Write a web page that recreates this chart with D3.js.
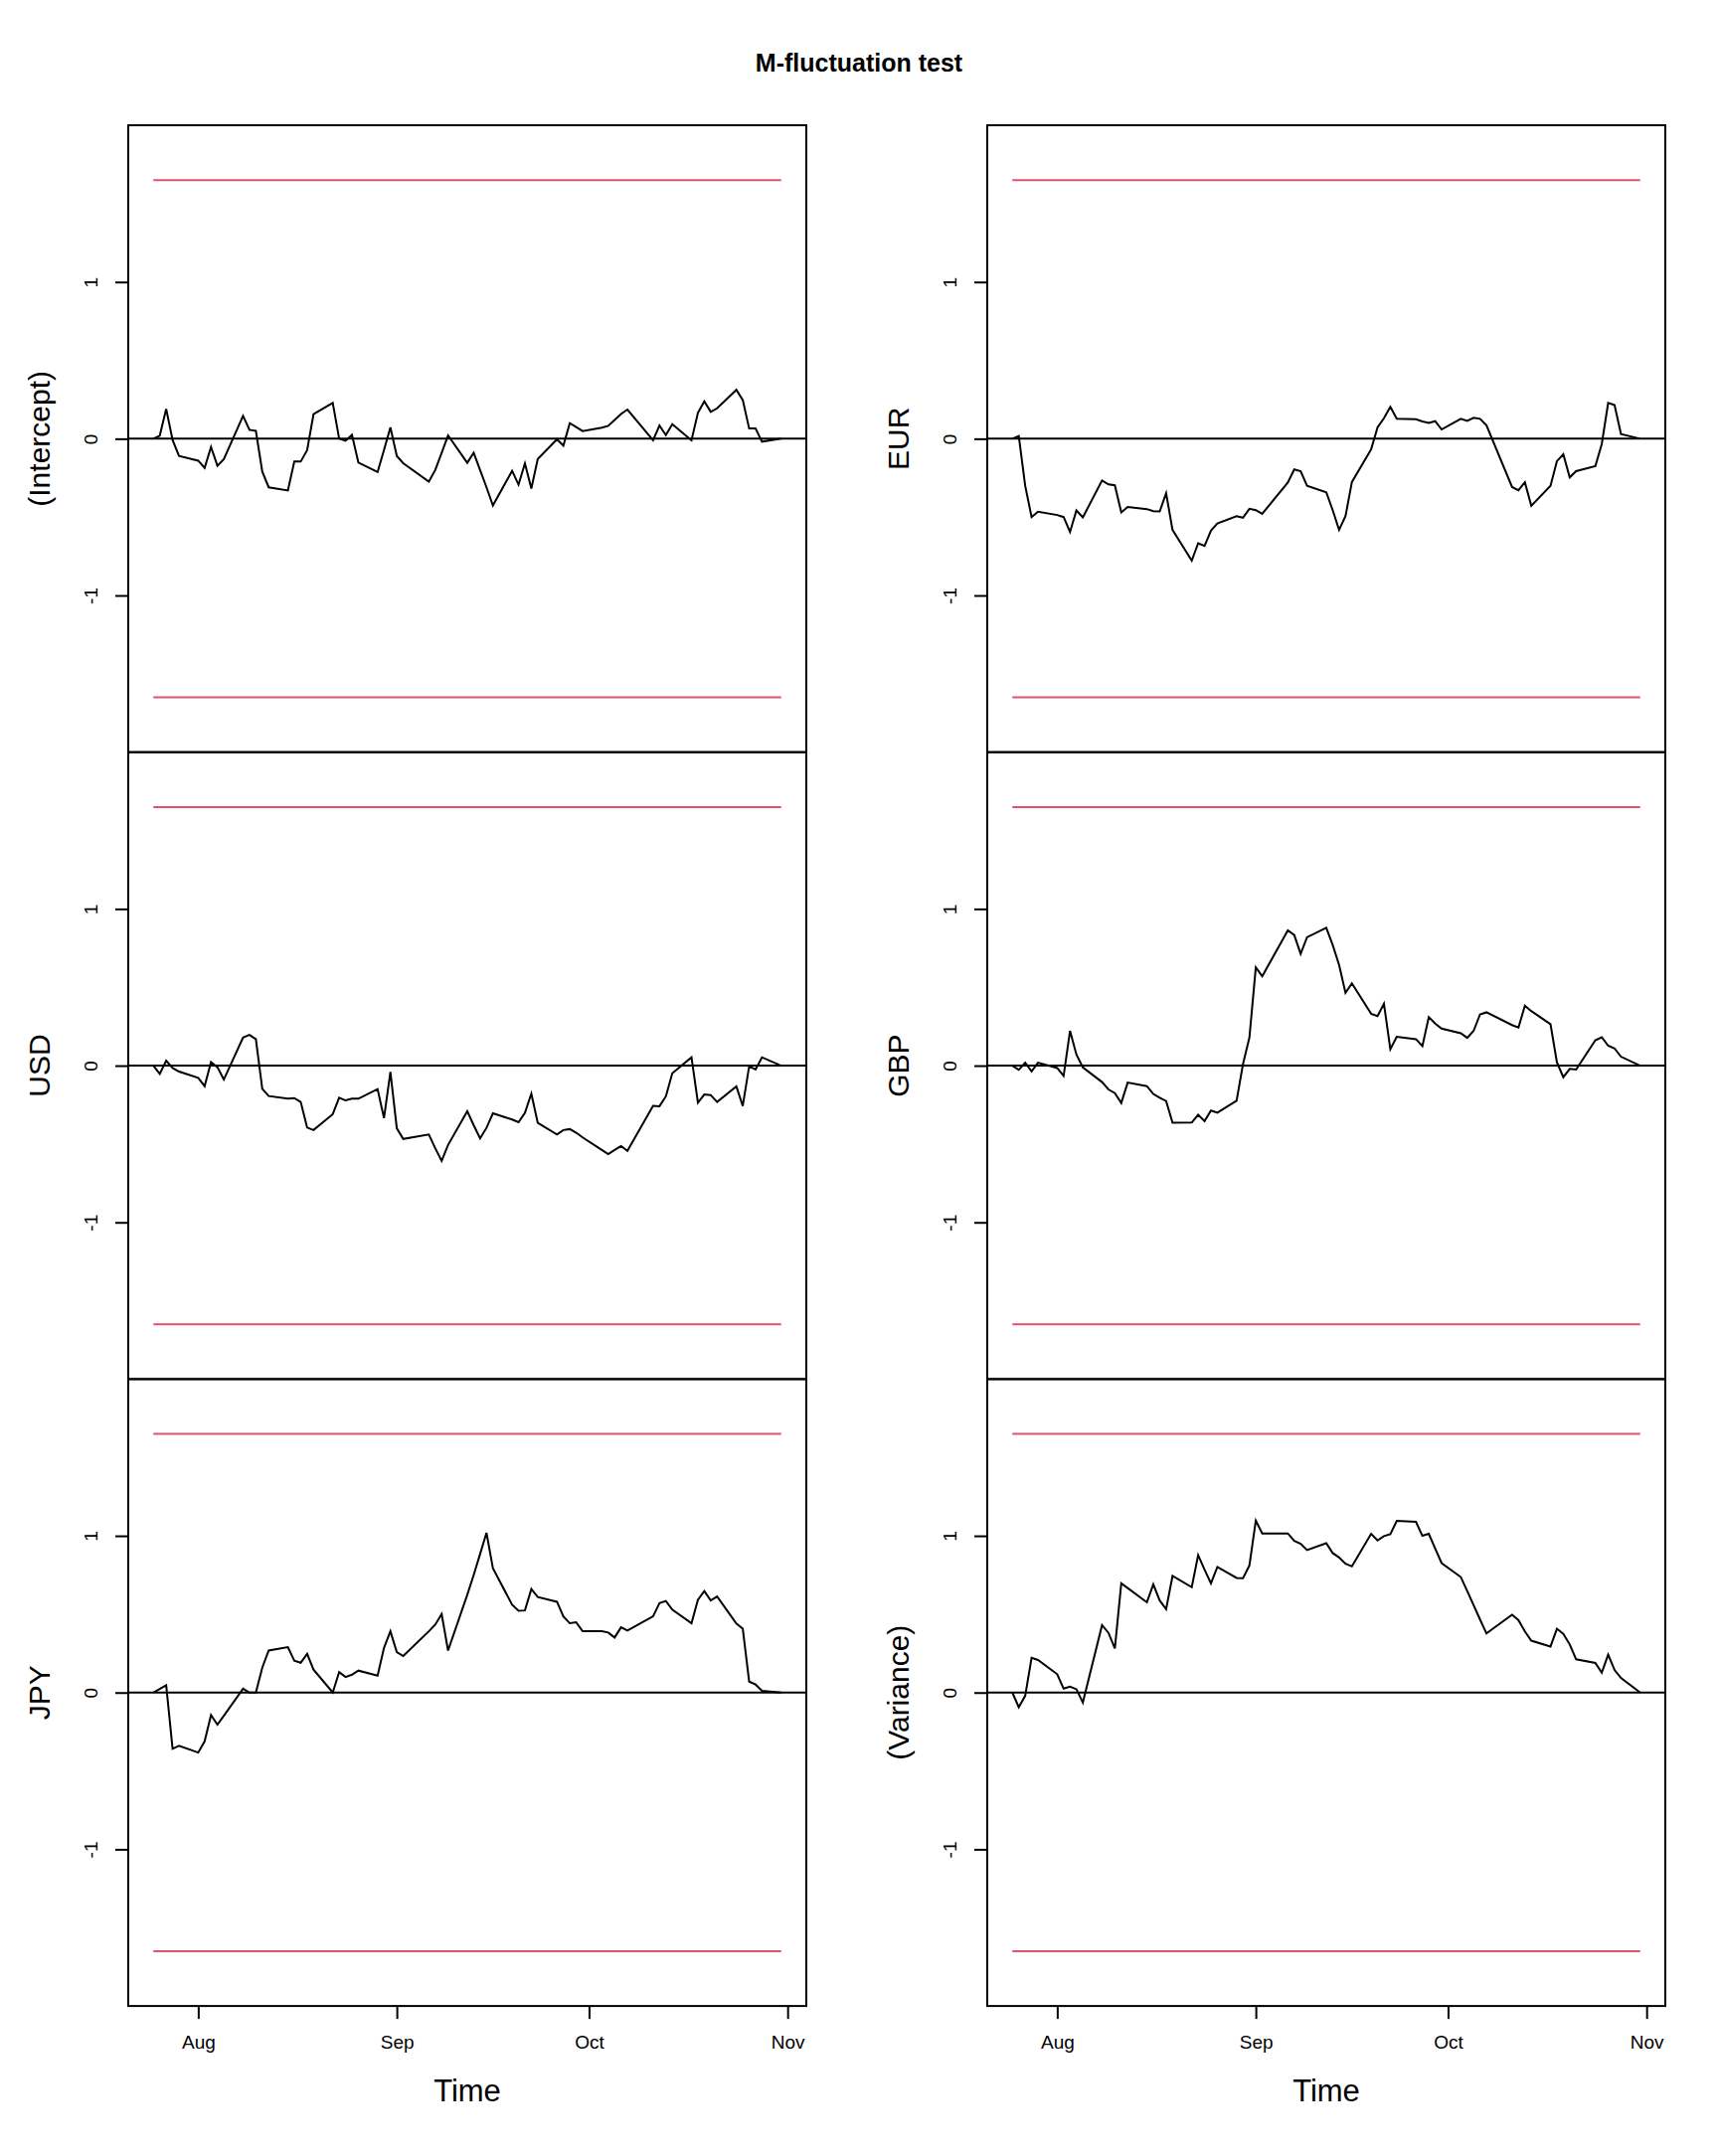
<!DOCTYPE html>
<html>
<head>
<meta charset="utf-8">
<script src="https://cdn.jsdelivr.net/npm/d3@7"></script>
<style>
  body { margin: 0; background: #fff; }
  svg { font-family: "Liberation Sans", Arial, Helvetica, sans-serif; display: block; }
</style>
</head>
<body>
<svg id="mfluct" width="1728" height="2169"></svg>
<script>
// trading days (US holidays Sep 5 and Oct 10 missing)
const dates = [
  "2005-07-25","2005-07-26","2005-07-27","2005-07-28","2005-07-29",
  "2005-08-01","2005-08-02","2005-08-03","2005-08-04","2005-08-05",
  "2005-08-08","2005-08-09","2005-08-10","2005-08-11","2005-08-12",
  "2005-08-15","2005-08-16","2005-08-17","2005-08-18","2005-08-19",
  "2005-08-22","2005-08-23","2005-08-24","2005-08-25","2005-08-26",
  "2005-08-29","2005-08-30","2005-08-31","2005-09-01","2005-09-02",
  "2005-09-06","2005-09-07","2005-09-08","2005-09-09",
  "2005-09-12","2005-09-13","2005-09-14","2005-09-15","2005-09-16",
  "2005-09-19","2005-09-20","2005-09-21","2005-09-22","2005-09-23",
  "2005-09-26","2005-09-27","2005-09-28","2005-09-29","2005-09-30",
  "2005-10-03","2005-10-04","2005-10-05","2005-10-06","2005-10-07",
  "2005-10-11","2005-10-12","2005-10-13","2005-10-14",
  "2005-10-17","2005-10-18","2005-10-19","2005-10-20","2005-10-21",
  "2005-10-24","2005-10-25","2005-10-26","2005-10-27","2005-10-28",
  "2005-10-31"
];

const intercept = [
  0, 0.019, 0.19, -0.008, -0.11,
  -0.14, -0.186, -0.053, -0.173, -0.13,
  0.146, 0.057, 0.05, -0.21, -0.31,
  -0.33, -0.146, -0.146, -0.074, 0.156,
  0.228, 0.0, -0.013, 0.025, -0.152,
  -0.213, -0.072, 0.072, -0.11, -0.156,
  -0.274, -0.2, -0.09, 0.021,
  -0.154, -0.09, -0.2, -0.31, -0.426,
  -0.205, -0.293, -0.158, -0.318, -0.129,
  -0.004, -0.044, 0.099, 0.074, 0.049,
  0.07, 0.082, 0.12, 0.158, 0.186,
  -0.01, 0.084, 0.023, 0.093,
  -0.01, 0.165, 0.238, 0.171, 0.194,
  0.312, 0.247, 0.065, 0.065, -0.019,
  0
];
const eur = [
  0, 0.017, -0.30, -0.50, -0.466,
  -0.487, -0.50, -0.595, -0.458, -0.502,
  -0.266, -0.291, -0.297, -0.47, -0.435,
  -0.449, -0.462, -0.464, -0.348, -0.582,
  -0.778, -0.667, -0.684, -0.586, -0.54,
  -0.494, -0.504, -0.447, -0.456, -0.479,
  -0.28, -0.196, -0.207, -0.30,
  -0.342, -0.456, -0.582, -0.494, -0.276,
  -0.068, 0.072, 0.131, 0.203, 0.127,
  0.124, 0.11, 0.101, 0.112, 0.059,
  0.127, 0.114, 0.133, 0.127, 0.086,
  -0.308, -0.329, -0.278, -0.428,
  -0.30, -0.143, -0.099, -0.247, -0.207,
  -0.175, -0.034, 0.228, 0.215, 0.03,
  0
];
const usd = [
  0, -0.053, 0.032, -0.015, -0.038,
  -0.078, -0.131, 0.023, -0.01, -0.089,
  0.179, 0.196, 0.169, -0.148, -0.194,
  -0.211, -0.207, -0.232, -0.395, -0.411,
  -0.31, -0.205, -0.222, -0.211, -0.211,
  -0.15, -0.335, -0.04, -0.40, -0.468,
  -0.439, -0.527, -0.608, -0.506,
  -0.291, -0.38, -0.464, -0.397, -0.304,
  -0.344, -0.361, -0.302, -0.179, -0.365,
  -0.439, -0.411, -0.405, -0.428, -0.458,
  -0.538, -0.565, -0.538, -0.513, -0.544,
  -0.257, -0.259, -0.196, -0.049,
  0.053, -0.236, -0.184, -0.188, -0.232,
  -0.133, -0.257, -0.004, -0.025, 0.053,
  0
];
const gbp = [
  0, -0.027, 0.019, -0.036, 0.019,
  -0.015, -0.065, 0.222, 0.07, -0.011,
  -0.105, -0.152, -0.175, -0.238, -0.108,
  -0.131, -0.181, -0.205, -0.226, -0.365,
  -0.363, -0.314, -0.354, -0.287, -0.30,
  -0.224, 0.01, 0.179, 0.627, 0.57,
  0.863, 0.833, 0.713, 0.819,
  0.88, 0.77, 0.643, 0.464, 0.525,
  0.331, 0.316, 0.395, 0.105, 0.184,
  0.169, 0.124, 0.31, 0.268, 0.236,
  0.207, 0.177, 0.222, 0.327, 0.34,
  0.259, 0.243, 0.382, 0.348,
  0.264, 0.021, -0.074, -0.021, -0.025,
  0.162, 0.181, 0.127, 0.11, 0.057,
  0
];
const jpy = [
  0, 0.023, 0.047, -0.359, -0.34,
  -0.383, -0.311, -0.144, -0.205, -0.148,
  0.025, 0, 0, 0.159, 0.268,
  0.29, 0.203, 0.19, 0.247, 0.146,
  0, 0.131, 0.099, 0.114, 0.14,
  0.108, 0.285, 0.391, 0.258, 0.233,
  0.391, 0.433, 0.501, 0.268,
  0.624, 0.75, 0.884, 1.019, 0.793,
  0.56, 0.522, 0.524, 0.66, 0.609,
  0.579, 0.486, 0.442, 0.448, 0.391,
  0.391, 0.383, 0.351, 0.416, 0.395,
  0.486, 0.571, 0.584, 0.529,
  0.442, 0.592, 0.647, 0.588, 0.613,
  0.44, 0.408, 0.07, 0.051, 0.011,
  0
];
const variance = [
  0, -0.093, -0.021, 0.222, 0.208,
  0.117, 0.025, 0.038, 0.021, -0.064,
  0.43, 0.381, 0.282, 0.697, 0.667,
  0.576, 0.691, 0.587, 0.532, 0.744,
  0.672, 0.877, 0.784, 0.697, 0.801,
  0.731, 0.729, 0.811, 1.097, 1.015,
  1.015, 0.968, 0.949, 0.909,
  0.953, 0.89, 0.862, 0.822, 0.805,
  1.013, 0.97, 0.998, 1.011, 1.095,
  1.089, 1.0, 1.013, 0.919, 0.826,
  0.737, 0.648, 0.557, 0.466, 0.377,
  0.496, 0.462, 0.39, 0.331,
  0.294, 0.407, 0.375, 0.307, 0.212,
  0.189, 0.127, 0.242, 0.144, 0.093,
  0
];

const leftNames = ["(Intercept)", "USD", "JPY"];
const rightNames = ["EUR", "GBP", "(Variance)"];
const leftSeries = [intercept, usd, jpy];
const rightSeries = [eur, gbp, variance];
const boundary = 1.65;
const yTicks = [-1, 0, 1];
const xTicks = ["2005-08-01", "2005-09-01", "2005-10-01", "2005-11-01"];
const yLim = [-2, 2];

const svg = d3.select("#mfluct");

const render = () => {
    const colLeft = [129, 993];
    const panelW = 682;
    const top = 126;
    const panelH = 630.7;
    const red = "#DF536B";

    const parse = d3.utcParse("%Y-%m-%d");
    const t = dates.map(parse);
    const ext = d3.extent(t);
    const pad = (ext[1] - ext[0]) * 0.04;

    const xScale = d3.scaleUtc()
        .domain([new Date(+ext[0] - pad), new Date(+ext[1] + pad)])
        .range([0, panelW]);

    const yScale = d3.scaleLinear()
        .domain(yLim)
        .range([panelH, 0]);

    svg.append("text")
        .attr("x", 864)
        .attr("y", 72)
        .attr("text-anchor", "middle")
        .attr("font-weight", "bold")
        .attr("font-size", 25)
        .text("M-fluctuation test");

    const columns = [
        {names: leftNames, series: leftSeries},
        {names: rightNames, series: rightSeries}
    ];

    columns.forEach((col, ci) => {
        col.series.forEach((vals, pi) => {
            const g = svg.append("g")
                .attr("transform", `translate(${colLeft[ci]}, ${top + pi * panelH})`);

            // boundaries
            [boundary, -boundary].forEach(b => {
                g.append("line")
                    .attr("x1", xScale(ext[0]))
                    .attr("x2", xScale(ext[1]))
                    .attr("y1", yScale(b))
                    .attr("y2", yScale(b))
                    .attr("stroke", red)
                    .attr("stroke-width", 2);
            });

            // zero line
            g.append("line")
                .attr("x1", 0)
                .attr("x2", panelW)
                .attr("y1", yScale(0))
                .attr("y2", yScale(0))
                .attr("stroke", "black")
                .attr("stroke-width", 2);

            const line = d3.line()
                .x((d, i) => xScale(t[i]))
                .y(d => yScale(d));

            g.append("path")
                .datum(vals)
                .attr("d", line)
                .attr("fill", "none")
                .attr("stroke", "black")
                .attr("stroke-width", 2)
                .attr("stroke-linejoin", "miter");

            const yAxisG = g.append("g")
                .call(d3.axisLeft(yScale)
                    .tickValues(yTicks)
                    .tickSize(13)
                    .tickFormat(d => String(d)));
            yAxisG.select(".domain").remove();
            yAxisG.selectAll(".tick line").attr("stroke-width", 2);
            yAxisG.selectAll(".tick text")
                .attr("x", null)
                .attr("dy", null)
                .attr("text-anchor", "middle")
                .attr("transform", "translate(-31,0) rotate(-90)")
                .attr("font-size", 19)
                .attr("font-family", null)
                .attr("fill", "black");

            g.append("text")
                .attr("transform", `translate(-79, ${panelH / 2}) rotate(-90)`)
                .attr("text-anchor", "middle")
                .attr("font-size", 30)
                .text(col.names[pi]);

            // box
            g.append("rect")
                .attr("width", panelW)
                .attr("height", panelH)
                .attr("fill", "none")
                .attr("stroke", "black")
                .attr("stroke-width", 2);

            if (pi === col.series.length - 1) {
                const xAxisG = g.append("g")
                    .attr("transform", `translate(0, ${panelH})`)
                    .call(d3.axisBottom(xScale)
                        .tickValues(xTicks.map(parse))
                        .tickSize(13)
                        .tickFormat(d3.utcFormat("%b")));
                xAxisG.select(".domain").remove();
                xAxisG.selectAll(".tick line").attr("stroke-width", 2);
                xAxisG.selectAll(".tick text")
                    .attr("y", 43)
                    .attr("dy", null)
                    .attr("font-size", 19)
                    .attr("font-family", null)
                    .attr("fill", "black");

                xAxisG.append("text")
                    .attr("x", panelW / 2)
                    .attr("y", 96)
                    .attr("text-anchor", "middle")
                    .attr("font-size", 31)
                    .attr("fill", "black")
                    .text("Time");
            }
        });
    });
};

render();
</script>
</body>
</html>
